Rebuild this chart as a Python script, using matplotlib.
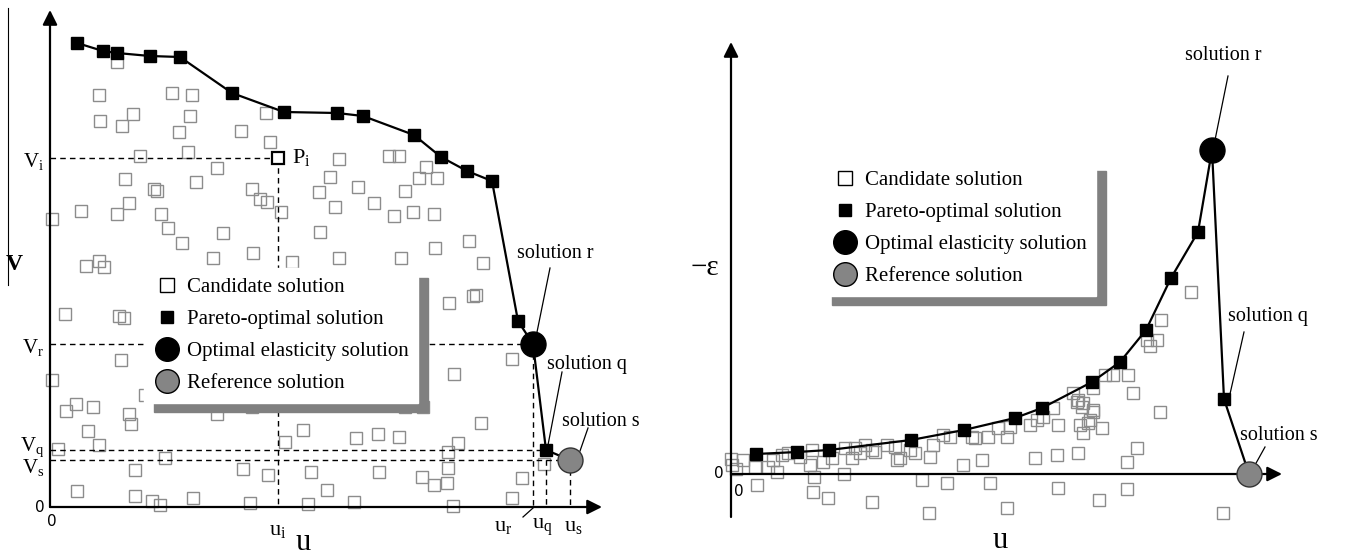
import matplotlib.pyplot as plt
from matplotlib.lines import Line2D

plt.rcParams['font.family'] = 'Liberation Serif'
plt.rcParams['mathtext.fontset'] = 'custom'
plt.rcParams['mathtext.rm'] = 'Liberation Serif'
plt.rcParams['mathtext.it'] = 'Liberation Serif:italic'

# ---- donnees du panneau gauche (u, V) ----
left_cand_u = [67, 49, 122, 142, 50, 83, 72, 140, 129, 191,
               216, 220, 138, 90, 167, 75, 104, 107, 146, 202,
               210, 217, 231, 269, 280, 31, 2, 79, 67, 111,
               118, 132, 173, 270, 203, 163, 36, 49, 54, 242,
               289, 339, 349, 376, 369, 387, 308, 355, 285, 324,
               344, 363, 384, 385, 419, 433, 289, 351, 15, 69,
               74, 71, 2, 95, 16, 26, 43, 79, 81, 38,
               49, 8, 167, 202, 253, 235, 115, 85, 193, 218,
               261, 27, 85, 102, 110, 143, 200, 258, 277, 399,
               423, 426, 462, 404, 431, 306, 328, 349, 408, 398,
               398, 329, 372, 384, 397, 472, 462, 304, 403, 494,
               355, 373]
left_cand_v = [445, 412, 414, 412, 386, 393, 381, 391, 375, 376,
               394, 365, 355, 351, 339, 328, 318, 316, 325, 318,
               308, 305, 295, 315, 330, 296, 288, 304, 293, 293,
               279, 264, 274, 275, 254, 249, 241, 246, 240, 245,
               348, 351, 351, 340, 329, 329, 320, 316, 300, 304,
               291, 295, 293, 259, 266, 244, 249, 249, 193, 191,
               189, 147, 127, 112, 96, 103, 100, 93, 83, 76,
               62, 58, 93, 100, 77, 65, 49, 37, 38, 32,
               35, 16, 11, 6, 2, 9, 4, 3, 17, 204,
               211, 212, 148, 133, 84, 69, 73, 70, 64, 55,
               39, 35, 30, 22, 24, 29, 9, 5, 1, 43,
               100, 100]
left_front_u = [27, 53, 67, 100, 130, 182, 234, 287, 313, 364, 391, 417, 442, 468]
left_front_v = [464, 456, 454, 451, 450, 414, 395, 394, 391, 372, 350, 336, 326, 186]
left_r = (483, 163)   # solution r (elasticite optimale)
left_q = (496, 57)    # solution q
left_s = (520, 47)    # solution s (reference)
left_pi = (228, 349)  # point P_i

# ---- donnees du panneau droit (u, -epsilon) ----
right_cand_u = [0, 1, 5, 12, 24, 26, 37, 46, 42, 51,
                57, 69, 79, 81, 83, 82, 97, 92, 101, 113,
                114, 121, 124, 129, 134, 141, 144, 141, 156, 166,
                164, 179, 169, 184, 199, 202, 212, 219, 232, 241,
                244, 251, 257, 267, 276, 279, 276, 259, 216, 191,
                198, 304, 299, 306, 312, 322, 327, 326, 327, 347,
                342, 347, 351, 349, 352, 359, 362, 346, 368, 460,
                430, 426, 419, 416, 397, 382, 374, 362, 402, 429,
                352, 362, 357, 371, 406, 396, 396, 492]
right_cand_e = [15, 9, 5, 14, 7, -11, 7, 2, 14, 19,
                21, 17, 9, 24, -3, -18, -24, 12, 16, 0,
                26, 16, 26, 21, 29, 24, 22, -28, 29, 14,
                27, 24, 16, 21, 17, 29, 39, 37, 9, 37,
                36, 14, 37, 46, 37, 47, -34, -9, -9, -6,
                -39, 16, 49, 54, 57, 66, 49, 19, -14, 21,
                81, 74, 67, 49, 41, 54, 64, 72, -26, 182,
                154, 134, 128, 134, 99, 99, 99, 86, 81, 62,
                71, 62, 51, 46, 26, 12, -15, -39]
right_front_u = [25, 66, 98, 180, 233, 284, 311, 361, 389, 415, 440, 467]
right_front_e = [20, 22, 24, 34, 44, 56, 66, 92, 112, 144, 196, 242]
right_r = (481, 324)
right_q = (493, 75)
right_s = (518, 0)

legend_labels = ['Candidate solution', 'Pareto-optimal solution',
                 'Optimal elasticity solution', 'Reference solution']

ref_grey = '#858585'
cand_grey = '#8c8c8c'
dash = (0, (4, 3))

fig = plt.figure(figsize=(13.47, 5.56), dpi=100)
axL = fig.add_axes([0, 0, 660 / 1347, 1])
axR = fig.add_axes([660 / 1347, 0, 687 / 1347, 1])
for ax in (axL, axR):
    ax.axis('off')
axL.set_xlim(-50, 610)
axL.set_ylim(-49, 507)
axR.set_xlim(-71, 616)
axR.set_ylim(-82, 474)


def fleche(ax, x0, y0, x1, y1):
    ax.annotate('', xy=(x1, y1), xytext=(x0, y0),
                arrowprops=dict(arrowstyle='-|>', lw=1.6, color='k',
                                mutation_scale=22, shrinkA=0, shrinkB=0),
                annotation_clip=False)


def trace_front(ax, fu, fv, r, q, s):
    uu = fu + [r[0], q[0], s[0]]
    vv = fv + [r[1], q[1], s[1]]
    ax.plot(uu, vv, '-', color='k', lw=1.6, zorder=3)
    ax.plot(fu + [q[0]], fv + [q[1]], 's', ms=8.5, color='k', zorder=4)
    ax.plot(r[0], r[1], 'o', ms=18, color='k', zorder=5)
    ax.plot(s[0], s[1], 'o', ms=18, mfc=ref_grey, mec='#333333', mew=1, zorder=5)


def legende(ax, anchor):
    handles = [
        Line2D([], [], ls='none', marker='s', ms=9.5, mfc='white', mec='k', mew=1),
        Line2D([], [], ls='none', marker='s', ms=8.5, mfc='k', mec='k'),
        Line2D([], [], ls='none', marker='o', ms=17, mfc='k', mec='k'),
        Line2D([], [], ls='none', marker='o', ms=17, mfc=ref_grey, mec='k', mew=1),
    ]
    leg = ax.legend(handles, legend_labels, loc='upper left', bbox_to_anchor=anchor,
                    bbox_transform=ax.transData, frameon=True, fancybox=False,
                    framealpha=1, edgecolor='white', facecolor='white',
                    shadow={'ox': 7, 'oy': -7, 'color': '#808080', 'alpha': 1},
                    fontsize=15, handlelength=1.3, handletextpad=0.3,
                    labelspacing=0.6, borderpad=0.45, borderaxespad=0)
    leg.set_zorder(6)


def annot(ax, txt, tx, ty, x0, y0, x1, y1):
    ax.text(tx, ty, txt, fontsize=14.5, ha='left', va='center')
    ax.plot([x0, x1], [y0, y1], '-', color='k', lw=0.9, zorder=3)


# ================= panneau gauche =================
axL.plot(left_cand_u, left_cand_v, 's', ms=8.5, mfc='none', mec=cand_grey, mew=1, zorder=2)
trace_front(axL, left_front_u, left_front_v, left_r, left_q, left_s)
axL.plot(left_pi[0], left_pi[1], 's', ms=8.5, mfc='white', mec='k', mew=1.6, zorder=4)

# lignes de rappel
axL.plot([0, left_pi[0]], [left_pi[1], left_pi[1]], ls=dash, color='k', lw=1, zorder=2)
axL.plot([left_pi[0], left_pi[0]], [left_pi[1], 0], ls=dash, color='k', lw=1, zorder=2)
for p in (left_r, left_q, left_s):
    axL.plot([0, p[0]], [p[1], p[1]], ls=dash, color='k', lw=1, zorder=2)
    axL.plot([p[0], p[0]], [p[1], 0], ls=dash, color='k', lw=1, zorder=2)

fleche(axL, 0, 0, 0, 497)
fleche(axL, 0, 0, 552, 0)

axL.text(-6, left_pi[1] - 4, r'$\mathrm{V}_\mathrm{i}$', fontsize=15, ha='right', va='center')
axL.text(-6, left_r[1] - 4, r'$\mathrm{V}_\mathrm{r}$', fontsize=15, ha='right', va='center')
axL.text(-6, left_q[1] + 3, r'$\mathrm{V}_\mathrm{q}$', fontsize=15, ha='right', va='center')
axL.text(-6, left_s[1] - 8, r'$\mathrm{V}_\mathrm{s}$', fontsize=15, ha='right', va='center')
axL.text(left_pi[0] + 14, left_pi[1], r'$\mathrm{P}_\mathrm{i}$', fontsize=16, ha='left', va='center')
axL.text(left_pi[0], -23, r'$\mathrm{u}_\mathrm{i}$', fontsize=16, ha='center', va='center')
axL.text(left_r[0] - 30, -20, r'$\mathrm{u}_\mathrm{r}$', fontsize=16, ha='center', va='center')
axL.plot([left_r[0] - 10, left_r[0]], [-10, -1], '-', color='k', lw=0.9)
axL.text(left_q[0] - 4, -20, r'$\mathrm{u}_\mathrm{q}$', fontsize=16, ha='center', va='center')
axL.text(left_s[0] + 3, -20, r'$\mathrm{u}_\mathrm{s}$', fontsize=16, ha='center', va='center')
axL.text(253, -36, 'u', fontsize=22, ha='center', va='center')
axL.text(-36, 242, 'V', fontsize=17, fontweight='bold', ha='center', va='center')
axL.plot([-42, -42], [499, 222], '-', color='k', lw=0.8, clip_on=False)
axL.text(-10, 0, '0', fontsize=11, family='DejaVu Sans', ha='center', va='center')
axL.text(2, -15, '0', fontsize=11, family='DejaVu Sans', ha='center', va='center')

annot(axL, 'solution r', 467, 254, 500, 239, 486, 170)
annot(axL, 'solution q', 497, 143, 512, 135, 498, 62)
annot(axL, 'solution s', 512, 85, 538, 79, 530, 56)

legende(axL, (94, 239))

# ================= panneau droit =================
axR.plot(right_cand_u, right_cand_e, 's', ms=8, mfc='none', mec=cand_grey, mew=1, zorder=2)
trace_front(axR, right_front_u, right_front_e, right_r, right_q, right_s)

fleche(axR, 0, -43, 0, 432)
fleche(axR, 0, 0, 551, 0)

axR.text(-26, 206, '\u2212\u03b5', fontsize=21, ha='center', va='center')
axR.text(-12, 1, '0', fontsize=11, family='DejaVu Sans', ha='center', va='center')
axR.text(8, -18, '0', fontsize=11, family='DejaVu Sans', ha='center', va='center')
axR.text(269, -67, 'u', fontsize=22, ha='center', va='center')

annot(axR, 'solution r', 454, 419, 497, 398, 484, 334)
annot(axR, 'solution q', 497, 157, 513, 142, 499, 80)
annot(axR, 'solution s', 509, 39, 534, 27, 524, 9)

legende(axR, (91, 313))

fig.savefig('out.png', dpi=100)
